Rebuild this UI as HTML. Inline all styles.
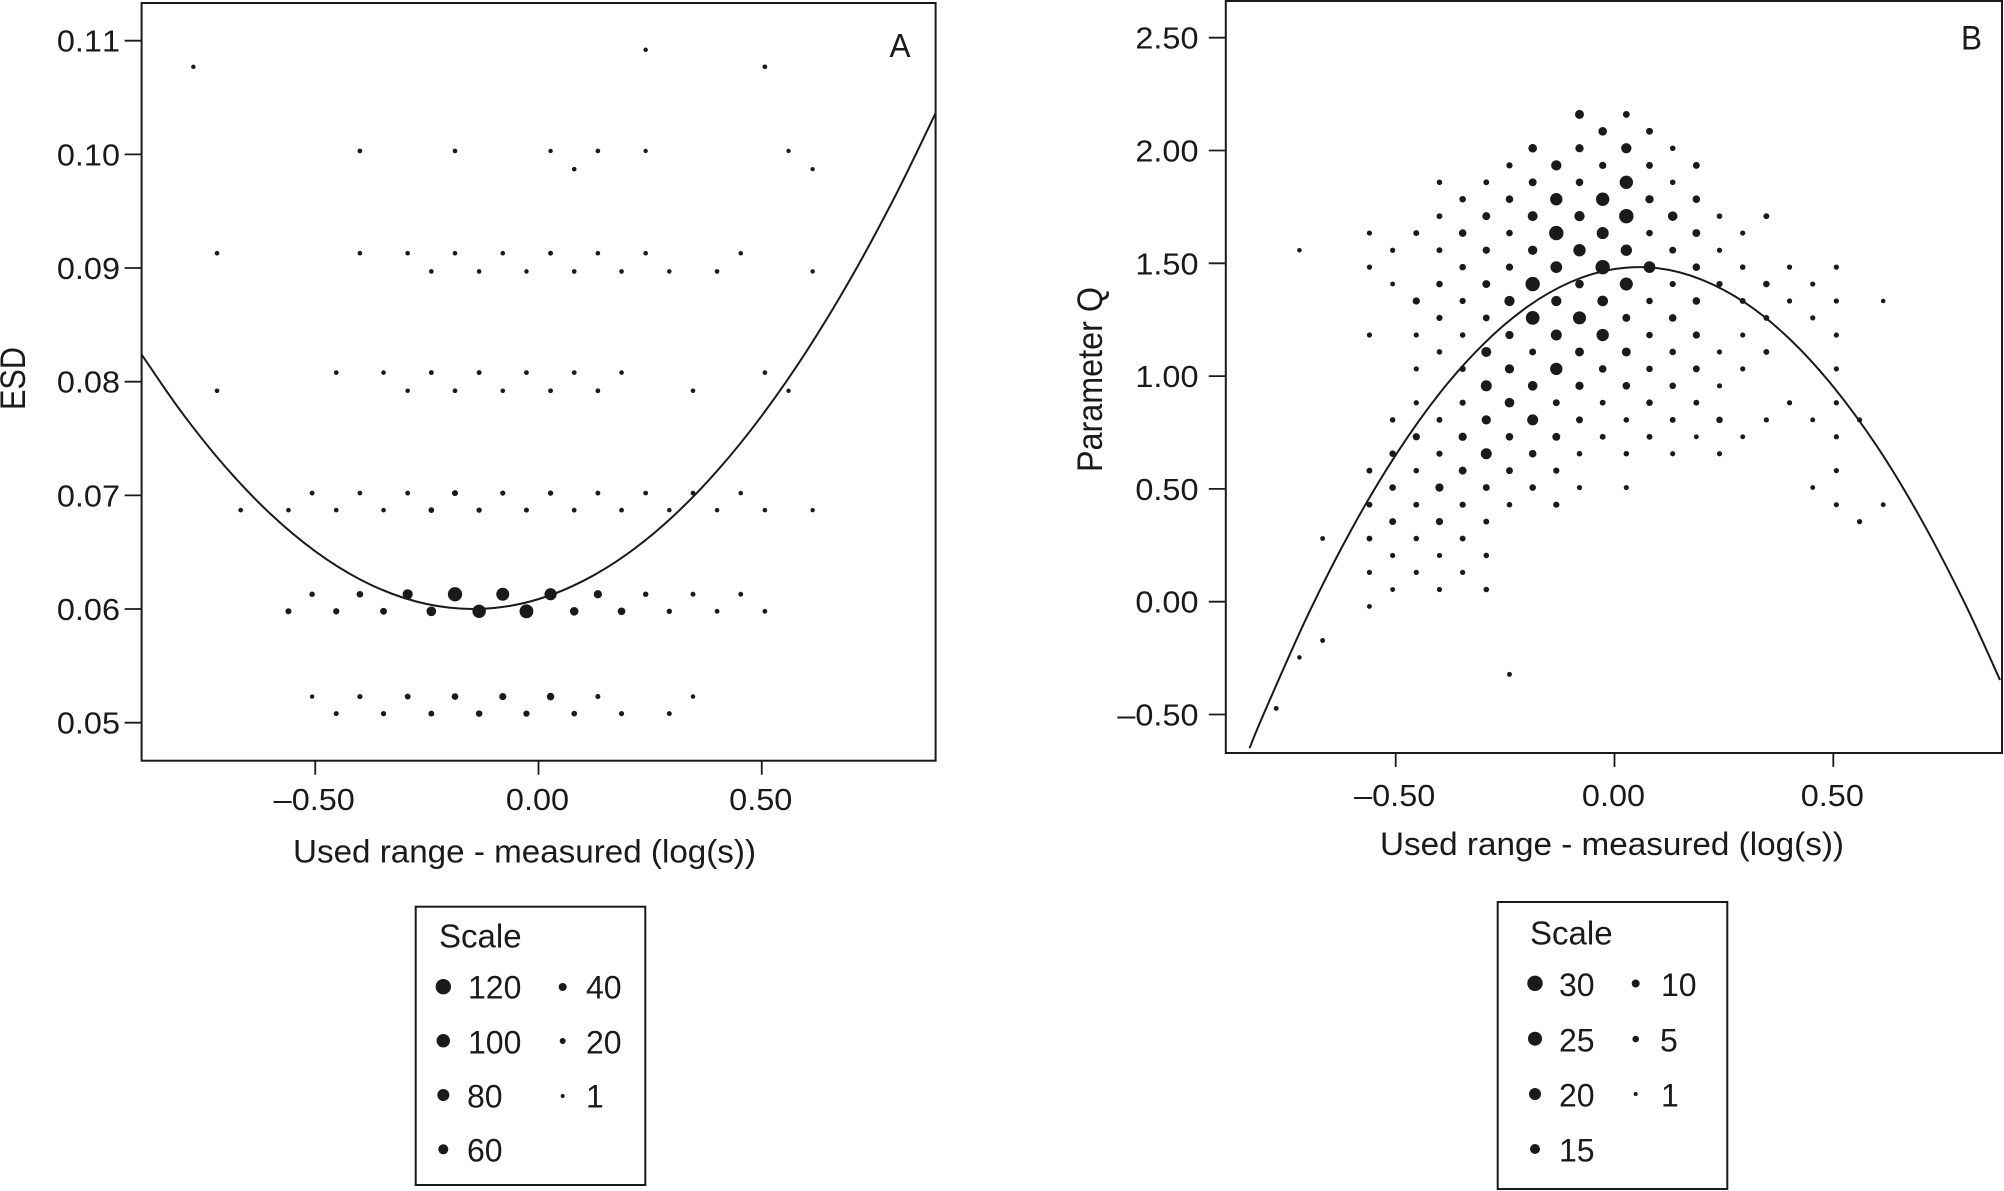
<!DOCTYPE html>
<html lang="en">
<head>
<meta charset="utf-8">
<title>ESD and Parameter Q versus used range minus measured</title>
<style>
html,body{margin:0;padding:0;background:#fff;}
svg{display:block;}
text{font-family:"Liberation Sans",Arial,sans-serif;fill:#1a1a1a;font-kerning:none;}
.frame{fill:none;stroke:#1a1a1a;stroke-width:2;}
.box{fill:none;stroke:#1a1a1a;stroke-width:2;}
.tick{stroke:#1a1a1a;stroke-width:1.8;}
.curve{fill:none;stroke:#1a1a1a;stroke-width:2;}
.dot{fill:#1a1a1a;}
.tl{font-size:31px;}
.at{font-size:32px;}
.yt{font-size:35px;}
.lg{font-size:32px;}
</style>
</head>
<body>
<svg id="chart" xmlns="http://www.w3.org/2000/svg" width="2004" height="1191" viewBox="0 0 2004 1191">
  <rect x="0" y="0" width="2004" height="1191" fill="#fff"/>

  <g id="panelA">
    <rect class="frame" x="141.6" y="3" width="794" height="757.7"/>
    <text class="at" x="889.5" y="57" textLength="21" lengthAdjust="spacingAndGlyphs" style="font-size:33px">A</text>
    <text class="at" x="293" y="862.5" textLength="463" lengthAdjust="spacingAndGlyphs">Used range - measured (log(s))</text>
    <text class="yt" transform="translate(25,410) rotate(-90)" textLength="63" lengthAdjust="spacingAndGlyphs">ESD</text>
  </g>

  <g id="panelB">
    <rect class="frame" x="1225.8" y="1" width="776.2" height="752"/>
    <text class="at" x="1961" y="49.3" textLength="21" lengthAdjust="spacingAndGlyphs" style="font-size:34px">B</text>
    <text class="at" x="1380" y="855" textLength="464" lengthAdjust="spacingAndGlyphs">Used range - measured (log(s))</text>
    <text class="yt" transform="translate(1102,472) rotate(-90)" textLength="185" lengthAdjust="spacingAndGlyphs">Parameter Q</text>
  </g>

  <g>
    <rect class="box" x="415.7" y="906.7" width="229.6" height="278.3"/>
    <text class="lg" x="439" y="947.3" style="font-size:33px">Scale</text>
    <circle class="dot" cx="443.3" cy="986.7" r="7.7"/>
    <text class="lg" x="468" y="998.3">120</text>
    <circle class="dot" cx="443.3" cy="1040.7" r="6.7"/>
    <text class="lg" x="468" y="1053.3">100</text>
    <circle class="dot" cx="443.3" cy="1095" r="6"/>
    <text class="lg" x="467" y="1107.3">80</text>
    <circle class="dot" cx="443.3" cy="1149.3" r="5"/>
    <text class="lg" x="467" y="1161.7">60</text>
    <circle class="dot" cx="562.7" cy="987" r="4"/>
    <text class="lg" x="586" y="998.3">40</text>
    <circle class="dot" cx="562.7" cy="1041" r="3"/>
    <text class="lg" x="586" y="1053.3">20</text>
    <circle class="dot" cx="562.7" cy="1096" r="2"/>
    <text class="lg" x="586" y="1107.3">1</text>
  </g>

  <g>
    <rect class="box" x="1497.7" y="902" width="229.6" height="287"/>
    <text class="lg" x="1530" y="944.3" style="font-size:33px">Scale</text>
    <circle class="dot" cx="1535" cy="983.3" r="7.7"/>
    <text class="lg" x="1559" y="996">30</text>
    <circle class="dot" cx="1535" cy="1038.7" r="7"/>
    <text class="lg" x="1559" y="1051.7">25</text>
    <circle class="dot" cx="1535" cy="1094" r="6"/>
    <text class="lg" x="1559" y="1106.7">20</text>
    <circle class="dot" cx="1535" cy="1149" r="5"/>
    <text class="lg" x="1559" y="1161.7">15</text>
    <circle class="dot" cx="1635.7" cy="983.5" r="4"/>
    <text class="lg" x="1661" y="996">10</text>
    <circle class="dot" cx="1635.7" cy="1039" r="3.3"/>
    <text class="lg" x="1660" y="1051.7">5</text>
    <circle class="dot" cx="1635.7" cy="1094" r="2"/>
    <text class="lg" x="1661" y="1106.7">1</text>
  </g>
</svg>

<script>
/* ---------- Panel A data ---------- */
const aXTickValues = [-0.5, 0, 0.5];
const aXTickLabels = ['\u20130.50', '0.00', '0.50'];
const aYTickValues = [0.05, 0.06, 0.07, 0.08, 0.09, 0.10, 0.11];
const aYTickLabels = ['0.05', '0.06', '0.07', '0.08', '0.09', '0.10', '0.11'];
const aRowEsd = [0.1092, 0.1077, 0.1003, 0.0987, 0.0913, 0.0897, 0.0808, 0.0792, 0.0702, 0.0687, 0.0613, 0.0598, 0.0523, 0.0508];
const aRowX = [
  [0.24],
  [-0.773, 0.507],
  [-0.4, -0.187, 0.027, 0.133, 0.24, 0.56],
  [0.08, 0.614],
  [-0.72, -0.4, -0.293, -0.187, -0.08, 0.027, 0.133, 0.24, 0.453],
  [-0.24, -0.133, -0.027, 0.08, 0.186, 0.293, 0.4, 0.614],
  [-0.453, -0.347, -0.24, -0.133, -0.027, 0.08, 0.186, 0.507],
  [-0.72, -0.293, -0.187, -0.08, 0.027, 0.133, 0.346, 0.56],
  [-0.507, -0.4, -0.293, -0.187, -0.08, 0.027, 0.133, 0.24, 0.346, 0.453],
  [-0.667, -0.56, -0.453, -0.347, -0.24, -0.133, -0.027, 0.08, 0.186, 0.293, 0.4, 0.507, 0.614],
  [-0.507, -0.4, -0.293, -0.187, -0.08, 0.027, 0.133, 0.24, 0.346, 0.453],
  [-0.56, -0.453, -0.347, -0.24, -0.133, -0.027, 0.08, 0.186, 0.293, 0.4, 0.507],
  [-0.507, -0.4, -0.293, -0.187, -0.08, 0.027, 0.133, 0.346],
  [-0.453, -0.347, -0.24, -0.133, -0.027, 0.08, 0.186, 0.293]
];
const aRowCount = [
  [3],
  [3, 6],
  [6, 5, 3, 5, 3, 2],
  [5, 2],
  [5, 5, 5, 5, 5, 8, 5, 5, 4],
  [5, 5, 4, 6, 5, 4, 5, 3],
  [6, 5, 8, 9, 7, 7, 5, 6],
  [5, 4, 7, 5, 7, 7, 4, 3],
  [8, 6, 8, 22, 12, 14, 8, 7, 6, 4],
  [6, 5, 6, 5, 18, 14, 10, 7, 7, 4, 3, 4, 2],
  [15, 28, 70, 120, 105, 95, 48, 15, 10, 8],
  [22, 25, 32, 65, 110, 115, 52, 42, 14, 7, 7],
  [3, 12, 20, 30, 35, 40, 10, 4],
  [10, 12, 20, 28, 25, 18, 12, 8]
];
const aCurveX = [-0.889, -0.8, -0.7, -0.6, -0.5, -0.4, -0.3, -0.2, -0.1, 0, 0.1, 0.2, 0.3, 0.4, 0.5, 0.6, 0.7, 0.8, 0.889];
const aCurveEsd = [0.0824, 0.07735, 0.07245, 0.06836, 0.06508, 0.06261, 0.06096, 0.06012, 0.06009, 0.06087, 0.06247, 0.06488, 0.06811, 0.07215, 0.077, 0.08266, 0.08913, 0.09642, 0.1036];

/* ---------- Panel B data ---------- */
const bXTickValues = [-0.5, 0, 0.5];
const bXTickLabels = ['\u20130.50', '0.00', '0.50'];
const bYTickValues = [-0.5, 0, 0.5, 1, 1.5, 2, 2.5];
const bYTickLabels = ['\u20130.50', '0.00', '0.50', '1.00', '1.50', '2.00', '2.50'];
const bRowQ = [2.16, 2.085, 2.01, 1.934, 1.859, 1.784, 1.709, 1.634, 1.558, 1.483, 1.408, 1.333, 1.258, 1.182, 1.107, 1.032, 0.957, 0.882, 0.806, 0.731, 0.656, 0.581, 0.506, 0.43, 0.355, 0.28, 0.205, 0.13, 0.054, -0.021, -0.172, -0.247, -0.322, -0.473];
const bRowX = [
  [-0.08, 0.027],
  [-0.027, 0.08],
  [-0.187, -0.08, 0.027, 0.133],
  [-0.24, -0.133, -0.027, 0.08, 0.187],
  [-0.4, -0.293, -0.187, -0.08, 0.027, 0.133],
  [-0.347, -0.24, -0.133, -0.027, 0.08, 0.187],
  [-0.4, -0.293, -0.187, -0.08, 0.027, 0.133, 0.24, 0.347],
  [-0.56, -0.453, -0.347, -0.24, -0.133, -0.027, 0.08, 0.187, 0.293],
  [-0.72, -0.507, -0.4, -0.293, -0.187, -0.08, 0.027, 0.133, 0.24],
  [-0.56, -0.347, -0.24, -0.133, -0.027, 0.08, 0.187, 0.293, 0.4, 0.507],
  [-0.507, -0.4, -0.293, -0.187, -0.08, 0.027, 0.133, 0.24, 0.347, 0.453],
  [-0.453, -0.347, -0.24, -0.133, -0.027, 0.08, 0.187, 0.293, 0.4, 0.507, 0.614],
  [-0.4, -0.293, -0.187, -0.08, 0.027, 0.133, 0.347, 0.453],
  [-0.56, -0.453, -0.347, -0.24, -0.133, -0.027, 0.08, 0.187, 0.293, 0.507],
  [-0.4, -0.293, -0.187, -0.08, 0.027, 0.133, 0.24, 0.347],
  [-0.453, -0.347, -0.24, -0.133, -0.027, 0.08, 0.187, 0.293, 0.507],
  [-0.293, -0.187, -0.08, 0.027, 0.133, 0.24],
  [-0.453, -0.347, -0.24, -0.133, -0.027, 0.08, 0.187, 0.4, 0.507],
  [-0.507, -0.4, -0.293, -0.187, -0.08, 0.027, 0.133, 0.24, 0.347, 0.453, 0.56],
  [-0.453, -0.347, -0.24, -0.133, -0.027, 0.08, 0.187, 0.293, 0.507],
  [-0.507, -0.4, -0.293, -0.187, -0.08, 0.027, 0.133, 0.24],
  [-0.56, -0.453, -0.347, -0.24, -0.133, 0.507],
  [-0.507, -0.4, -0.293, -0.187, -0.08, 0.027, 0.453],
  [-0.56, -0.453, -0.347, -0.24, -0.133, 0.507, 0.614],
  [-0.507, -0.4, -0.293, 0.56],
  [-0.667, -0.56, -0.453, -0.347],
  [-0.507, -0.4, -0.293],
  [-0.56, -0.453, -0.347],
  [-0.507, -0.4, -0.293],
  [-0.56],
  [-0.667],
  [-0.72],
  [-0.24],
  [-0.773]
];
const bRowCount = [
  [14, 8],
  [13, 8],
  [13, 12, 18, 4],
  [6, 18, 9, 8, 8],
  [4, 5, 11, 10, 27, 4],
  [7, 10, 24, 27, 12, 10],
  [5, 11, 17, 18, 30, 16, 4, 5],
  [3, 5, 10, 7, 30, 23, 7, 11, 3],
  [1, 3, 5, 9, 15, 24, 21, 8, 3],
  [3, 7, 9, 22, 30, 22, 10, 4, 3, 3],
  [2, 7, 11, 30, 13, 26, 6, 6, 7, 3],
  [9, 6, 18, 18, 19, 7, 10, 5, 3, 3, 1],
  [6, 8, 28, 26, 11, 10, 5, 3],
  [3, 3, 4, 12, 20, 24, 7, 9, 3, 3],
  [4, 17, 8, 14, 14, 7, 3, 5],
  [3, 6, 15, 24, 10, 7, 8, 3, 3],
  [20, 16, 12, 10, 7, 3],
  [3, 6, 16, 8, 5, 7, 5, 3, 3],
  [4, 5, 15, 20, 8, 4, 5, 7, 3, 2, 3],
  [9, 12, 10, 11, 5, 5, 2, 2, 3],
  [7, 6, 20, 10, 4, 4, 3, 3],
  [5, 4, 11, 8, 6, 3],
  [7, 12, 8, 7, 3, 3, 2],
  [5, 5, 6, 4, 6, 3, 2],
  [8, 9, 5, 3],
  [2, 5, 4, 5],
  [3, 3, 4],
  [3, 3, 3],
  [2, 3, 4],
  [2],
  [2],
  [1],
  [2],
  [2]
];
const bCurveX = [-0.834, -0.8, -0.7, -0.6, -0.5, -0.4, -0.3, -0.2, -0.1, 0, 0.1, 0.2, 0.3, 0.4, 0.5, 0.6, 0.7, 0.8, 0.881];
const bCurveQ = [-0.649, -0.49, -0.056, 0.324, 0.65, 0.923, 1.141, 1.306, 1.417, 1.4745, 1.478, 1.427, 1.323, 1.165, 0.953, 0.688, 0.368, -0.005, -0.347];

/* ---------- Axis functions ---------- */
function aScaleX(v) { return 538.5 + 446.5 * v; }
function aScaleY(v) { return 722.7 - (v - 0.05) * 11367; }
function bScaleX(v) { return 1614.5 + 437.6 * v; }
function bScaleY(v) { return 601.7 - 225.6 * v; }
function aRadius(c) { return 2.1 + 0.042 * c; }
function bRadius(c) { return 2.1 + 0.17 * c; }

const NS = 'http://www.w3.org/2000/svg';
const panelA = document.getElementById('panelA');
const panelB = document.getElementById('panelB');

function smoothPath(xs, ys, sx, sy) {
  const p = xs.map(function (x, i) { return [sx(x), sy(ys[i])]; });
  let d = 'M' + p[0][0].toFixed(2) + ' ' + p[0][1].toFixed(2);
  for (let i = 0; i < p.length - 1; i++) {
    const p0 = p[Math.max(i - 1, 0)], p1 = p[i], p2 = p[i + 1], p3 = p[Math.min(i + 2, p.length - 1)];
    d += 'C' + (p1[0] + (p2[0] - p0[0]) / 6).toFixed(2) + ' ' + (p1[1] + (p2[1] - p0[1]) / 6).toFixed(2) + ' ' +
         (p2[0] - (p3[0] - p1[0]) / 6).toFixed(2) + ' ' + (p2[1] - (p3[1] - p1[1]) / 6).toFixed(2) + ' ' +
         p2[0].toFixed(2) + ' ' + p2[1].toFixed(2);
  }
  return d;
}

function stretchText(el) {
  el.setAttribute('textLength', (el.getComputedTextLength() * 1.045).toFixed(1));
  el.setAttribute('lengthAdjust', 'spacingAndGlyphs');
}

function drawAxes(group, prefix, frameLeft, frameBottom, xVals, xLabels, yVals, yLabels, sx, sy, labelRight, xLabelBase) {
  xVals.forEach(function (v, i) {
    const line = document.createElementNS(NS, 'line');
    line.setAttribute('class', 'tick');
    line.setAttribute('x1', sx(v));
    line.setAttribute('x2', sx(v));
    line.setAttribute('y1', frameBottom);
    line.setAttribute('y2', frameBottom + 14);
    
    
    group.appendChild(line);
    const label = document.createElementNS(NS, 'text');
    label.setAttribute('class', 'tl');
    label.setAttribute('x', sx(v) - 1);
    label.setAttribute('y', xLabelBase);
    label.setAttribute('text-anchor', 'middle');
    
    
    label.textContent = xLabels[i];
    group.appendChild(label);
    stretchText(label);
  });
  yVals.forEach(function (v, i) {
    const line = document.createElementNS(NS, 'line');
    line.setAttribute('class', 'tick');
    line.setAttribute('x1', frameLeft - 17);
    line.setAttribute('x2', frameLeft);
    line.setAttribute('y1', sy(v));
    line.setAttribute('y2', sy(v));
    
    
    group.appendChild(line);
    const label = document.createElementNS(NS, 'text');
    label.setAttribute('class', 'tl');
    label.setAttribute('x', labelRight);
    label.setAttribute('y', sy(v) + 11);
    label.setAttribute('text-anchor', 'end');
    
    
    label.textContent = yLabels[i];
    group.appendChild(label);
    stretchText(label);
  });
}

function drawDots(group, prefix, rowVals, rowX, rowCount, sx, sy, radius) {
  rowVals.forEach(function (val, r) {
    rowX[r].forEach(function (x, i) {
      const c = document.createElementNS(NS, 'circle');
      c.setAttribute('class', 'dot');
      c.setAttribute('cx', sx(x).toFixed(2));
      c.setAttribute('cy', sy(val).toFixed(2));
      c.setAttribute('r', radius(rowCount[r][i]).toFixed(2));
      
      
      group.appendChild(c);
    });
  });
}

function drawCurve(group, prefix, xs, ys, sx, sy) {
  const path = document.createElementNS(NS, 'path');
  path.setAttribute('class', 'curve');
  path.setAttribute('d', smoothPath(xs, ys, sx, sy));
  
  
  group.appendChild(path);
}

drawAxes(panelA, 'panel-a', 141.6, 760.7, aXTickValues, aXTickLabels, aYTickValues, aYTickLabels, aScaleX, aScaleY, 120, 810);
drawDots(panelA, 'panel-a', aRowEsd, aRowX, aRowCount, aScaleX, aScaleY, aRadius);
drawCurve(panelA, 'panel-a', aCurveX, aCurveEsd, aScaleX, aScaleY);

drawAxes(panelB, 'panel-b', 1225.8, 753, bXTickValues, bXTickLabels, bYTickValues, bYTickLabels, bScaleX, bScaleY, 1198.5, 806);
drawDots(panelB, 'panel-b', bRowQ, bRowX, bRowCount, bScaleX, bScaleY, bRadius);
drawCurve(panelB, 'panel-b', bCurveX, bCurveQ, bScaleX, bScaleY);
</script>
</body>
</html>
